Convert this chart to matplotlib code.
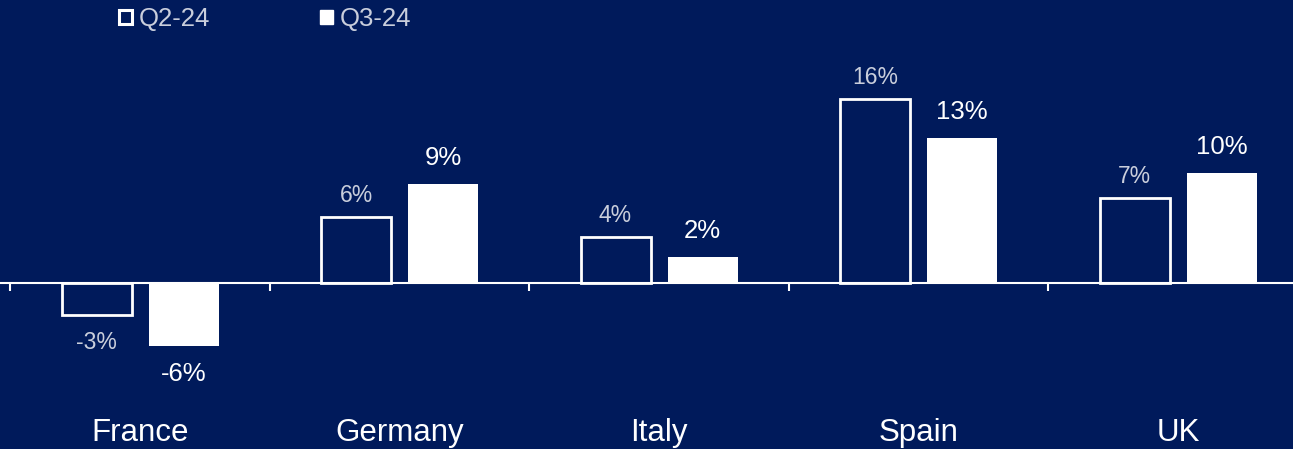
import numpy as np
import matplotlib

matplotlib.use('Agg')
import matplotlib.pyplot as plt
from matplotlib.patches import Patch

# Data (percent)
countries = ['France', 'Germany', 'Italy', 'Spain', 'UK']
q2_24 = [-2.8, 5.7, 4.0, 16.0, 7.4]
q3_24 = [-5.5, 8.6, 2.3, 12.6, 9.6]
series_names = ['Q2-24', 'Q3-24']

bg = '#001a5b'
grey = '#c9cedc'
plt.rcParams['font.family'] = ['Liberation Sans', 'DejaVu Sans']

fig = plt.figure(figsize=(12.93, 4.49), dpi=100, facecolor=bg)
ax = fig.add_axes([0, 0, 1, 1])
ax.set_facecolor(bg)

x = np.arange(len(countries))
off = 43.5 / 259.5
w = 70 / 259.5

ax.bar(x - off, q2_24, w, facecolor=bg, edgecolor='white', linewidth=2, zorder=3)
ax.bar(x + off, q3_24, w, facecolor='white', edgecolor='white', linewidth=0, zorder=3)


def pct(v):
    n = int(np.floor(abs(v) + 0.5))
    return f'{n if v >= 0 else -n}%'


# value labels
for xi, v in zip(x - off, q2_24):
    if v >= 0:
        ax.annotate(pct(v), (xi, v), xytext=(0, 10), textcoords='offset pixels',
                    ha='center', va='bottom', color=grey, fontsize=16.5)
    else:
        ax.annotate(pct(v), (xi, v), xytext=(0, -16), textcoords='offset pixels',
                    ha='center', va='top', color=grey, fontsize=16.5)
for xi, v in zip(x + off, q3_24):
    if v >= 0:
        ax.annotate(pct(v), (xi, v), xytext=(0, 14), textcoords='offset pixels',
                    ha='center', va='bottom', color='white', fontsize=18.5)
    else:
        ax.annotate(pct(v), (xi, v), xytext=(0, -16), textcoords='offset pixels',
                    ha='center', va='top', color='white', fontsize=18.5)

# axis line and category separators
ax.axhline(0, color='white', linewidth=1.5, zorder=4)
px = 1 / 11.5
ax.vlines(np.arange(len(countries) + 1) - 0.5, -8 * px, 0, color='white', linewidth=1.5, zorder=4)

# category labels
for xi, c in zip(x, countries):
    ax.text(xi, -(433 - 283) * px, c, ha='center', va='center', color='white', fontsize=22.5)

ax.set_xlim((0 - 140) / 259.5, (1293 - 140) / 259.5)
ax.set_ylim(-(449 - 283) * px, 283 * px)
ax.axis('off')

handles = [Patch(facecolor=bg, edgecolor='white', linewidth=2.2),
           Patch(facecolor='white', edgecolor='white')]
leg = fig.legend(handles, series_names, loc='center left', bbox_to_anchor=(119 / 1293, 1 - 19 / 449),
                 ncol=2, frameon=False, fontsize=18.5, handlelength=0.5, handleheight=0.5,
                 handletextpad=0.25, columnspacing=4.3, borderaxespad=0, borderpad=0)
for t in leg.get_texts():
    t.set_color(grey)

fig.savefig('out.png', dpi=100, facecolor=bg)
